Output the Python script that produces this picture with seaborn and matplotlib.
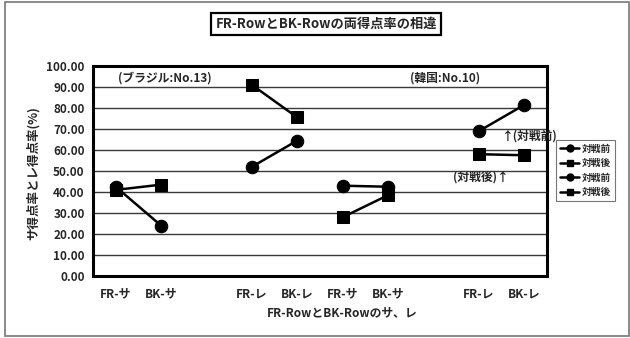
import numpy as np
import pandas as pd
import seaborn as sns
import matplotlib.pyplot as plt
from matplotlib.lines import Line2D
from matplotlib.patches import Rectangle

# category slots on the x axis (blank slots separate the groups)
categories = ['FR-サ', 'BK-サ', '', 'FR-レ', 'BK-レ', 'FR-サ', 'BK-サ', '', 'FR-レ', 'BK-レ']

# Brazil (No.13) occupies slots 0-4, Korea (No.10) slots 5-9
brazil_before = [42.5, 24.0, np.nan, 52.0, 64.5]
brazil_after = [41.0, 43.5, np.nan, 91.0, 75.5]
korea_before = [43.0, 42.5, np.nan, 69.0, 81.5]
korea_after = [28.0, 38.5, np.nan, 58.0, 57.5]

series_labels = ['対戦前', '対戦後', '対戦前', '対戦後']
series_markers = ['o', 's', 'o', 's']

# build a long table, one segment id per contiguous run of values
rows = []
for sid, (vals, start) in enumerate([(brazil_before, 0), (brazil_after, 0),
                                     (korea_before, 5), (korea_after, 5)]):
    seg = 0
    for i, v in enumerate(vals):
        if np.isnan(v):
            seg += 1
            continue
        rows.append({'pos': start + i, 'value': v, 'series': sid, 'segment': f'{sid}-{seg}'})
df = pd.DataFrame(rows)

sns.set_theme(style='white')
plt.rcParams['font.family'] = ['Noto Sans CJK JP', 'DejaVu Sans']

fig = plt.figure(figsize=(6.3, 3.38), dpi=100)
ax = fig.add_axes([93 / 630, 1 - 276 / 338, (547 - 93) / 630, (276 - 66) / 338])

for sid in range(4):
    sub = df[df['series'] == sid]
    for seg, part in sub.groupby('segment'):
        sns.lineplot(data=part, x='pos', y='value', ax=ax, color='black',
                     marker=series_markers[sid], markersize=9 if series_markers[sid] == 'o' else 8.5,
                     markeredgecolor='black', linewidth=1.8, legend=False, zorder=3)

ax.set_xlim(-0.5, len(categories) - 0.5)
ax.set_ylim(0, 100)
ax.set_xticks(range(len(categories)))
ax.set_xticklabels(categories, fontsize=8.5, fontweight='bold')
ax.set_xticks(np.arange(-0.5, len(categories)), minor=True)
ax.tick_params(axis='x', which='major', length=0, pad=8)
ax.tick_params(axis='x', which='minor', length=3, direction='in', width=1, color='black')
ax.set_yticks(np.arange(0, 101, 10))
ax.set_yticklabels([f'{v:.2f}' for v in np.arange(0, 101, 10)], fontsize=8.5, fontweight='bold')
ax.tick_params(axis='y', length=3, direction='out', width=1, color='black', pad=3)
ax.set_xlabel('')
ax.set_ylabel('')
ax.grid(False)
for v in np.arange(10, 100, 10):
    ax.axhline(v, color='#3a3a3a', linewidth=1, zorder=1)
for sp in ax.spines.values():
    sp.set_visible(True)
    sp.set_color('black')
    sp.set_linewidth(2.2)

# annotations
ax.text(1.09, 94.3, '(ブラジル:No.13)', ha='center', va='center', fontsize=8.5, fontweight='bold')
ax.text(7.25, 94.3, '(韓国:No.10)', ha='center', va='center', fontsize=8.5, fontweight='bold')
ax.text(8.5, 66.7, '↑(対戦前)', ha='left', va='center', fontsize=8.5, fontweight='bold', clip_on=False, zorder=5)
ax.text(8.05, 47.1, '(対戦後)↑', ha='center', va='center', fontsize=8.5, fontweight='bold')

# title, axis titles
fig.text(326 / 630, 1 - 24 / 338, 'FR-RowとBK-Rowの両得点率の相違', ha='center', va='center',
         fontsize=9.5, fontweight='bold',
         bbox=dict(boxstyle='square,pad=0.3', facecolor='white', edgecolor='black', linewidth=1.6))
fig.text(342 / 630, 1 - 313 / 338, 'FR-RowとBK-Rowのサ、レ', ha='center', va='center',
         fontsize=8.5, fontweight='bold')
fig.text(33 / 630, 1 - 173 / 338, 'サ得点率とレ得点率(%)', ha='center', va='center',
         rotation=90, fontsize=9, fontweight='bold')

# legend
handles = [Line2D([0], [0], color='black', linewidth=1.8, marker=m, markersize=5)
           for m in series_markers]
leg = fig.legend(handles, series_labels, loc='upper left',
                 bbox_to_anchor=(556 / 630, 1 - 140 / 338), fontsize=7, frameon=True,
                 fancybox=False, edgecolor='#555555', handlelength=2.0, handletextpad=0.3,
                 labelspacing=0.45, borderpad=0.4, borderaxespad=0)
leg.get_frame().set_linewidth(0.8)
for t in leg.get_texts():
    t.set_fontweight('bold')

# outer chart border
fig.patches.append(Rectangle((5 / 630, 2 / 338), 624 / 630, 334 / 338, transform=fig.transFigure,
                             fill=False, edgecolor='#777777', linewidth=1.2))

fig.savefig('out.png', dpi=100)
